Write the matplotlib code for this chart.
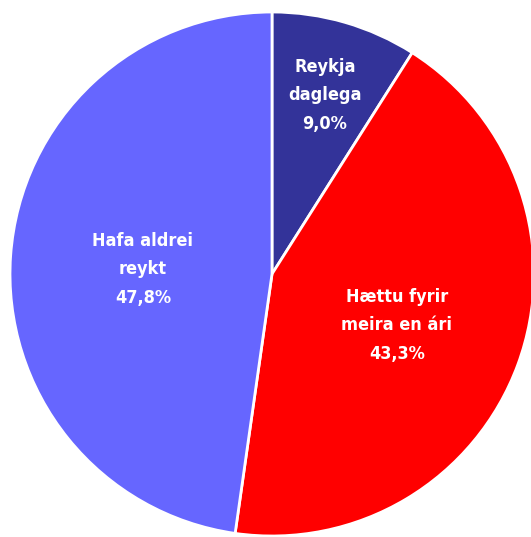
import matplotlib
matplotlib.use('Agg')
import matplotlib.pyplot as plt

# gögn
labels = ['Reykja\ndaglega', 'Hættu fyrir\nmeira en ári', 'Hafa aldrei\nreykt']
values = [9.0, 43.3, 47.8]
colors = ['#333399', '#FF0000', '#6666FF']

W, H = 531, 537
cx, cy, r = 272, 263, 262  # miðja og radíus í pixlum (y frá botni)

fig = plt.figure(figsize=(W / 100, H / 100), dpi=100)
ax = fig.add_axes([0, 0, 1, 1])

ax.pie(values, colors=colors, startangle=90, counterclock=False, radius=1,
       wedgeprops=dict(edgecolor='white', linewidth=2), frame=True)
ax.set_xlim(-cx / r, (W - cx) / r)
ax.set_ylim(-cy / r, (H - cy) / r)
ax.set_aspect('equal')
ax.axis('off')

# staðsetning merkja (pixlar frá efri vinstri)
label_pos = [(325, 95), (397, 325), (143, 269)]
for lab, v, (px, py) in zip(labels, values, label_pos):
    txt = lab + '\n' + f'{v:.1f}'.replace('.', ',') + '%'
    ax.text((px - cx) / r, (H - py - cy) / r, txt, ha='center', va='center',
            color='white', fontsize=13, fontweight='bold', linespacing=1.75,
            family=['DejaVu Sans'], fontstretch='condensed')

plt.savefig('out.png', dpi=100)
